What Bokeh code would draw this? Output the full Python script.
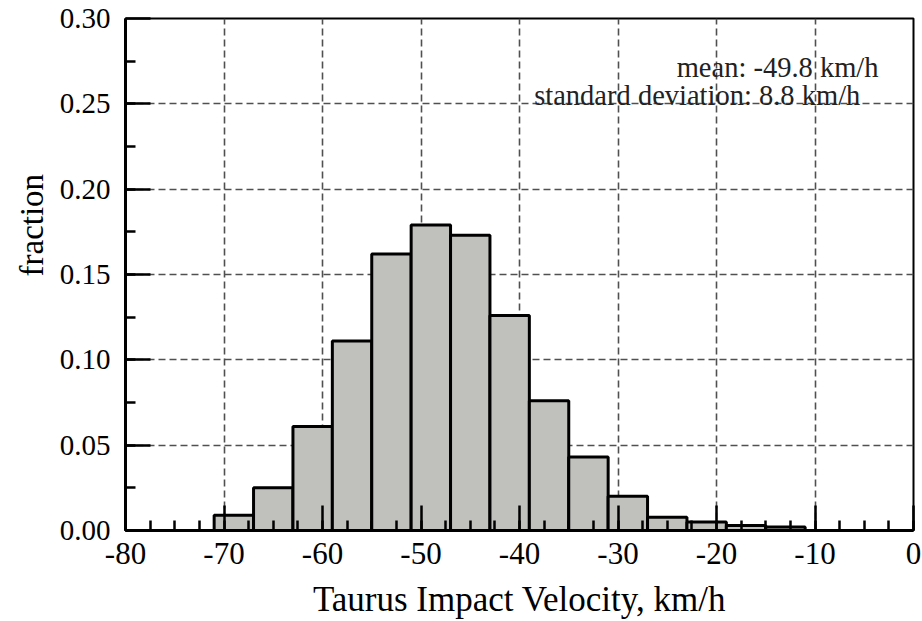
from bokeh.plotting import figure
from bokeh.models import FixedTicker, Label, ColumnDataSource, Title
from bokeh.embed import file_html
from bokeh.resources import INLINE

# ---- data ----
bin_left = [-71, -67, -63, -59, -55, -51, -47, -43, -39, -35, -31, -27, -23, -19, -15]
fraction = [0.009, 0.025, 0.061, 0.111, 0.162, 0.179, 0.173, 0.126, 0.076, 0.043,
            0.020, 0.0078, 0.005, 0.003, 0.002]
bin_width = 4

x_ticks = [-80, -70, -60, -50, -40, -30, -20, -10, 0]
x_tick_labels = ["-80", "-70", "-60", "-50", "-40", "-30", "-20", "-10", "0"]
y_ticks = [0.0, 0.05, 0.10, 0.15, 0.20, 0.25, 0.30]
y_tick_labels = ["0.00", "0.05", "0.10", "0.15", "0.20", "0.25", "0.30"]
x_minor = [-80 + 2.5 * i for i in range(33)]
y_minor = [0.025 * i for i in range(13)]

x_label = "Taurus Impact Velocity, km/h"
y_label = "fraction"
mean_text = "mean: -49.8 km/h"
sd_text = "standard deviation: 8.8 km/h"

FONT = "Liberation Serif"

src = ColumnDataSource(dict(
    left=bin_left,
    right=[b + bin_width for b in bin_left],
    top=fraction,
))

p = figure(width=922, height=621, x_range=(-80, 0), y_range=(0, 0.30),
           output_backend="svg", toolbar_location=None,
           min_border_left=125, min_border_right=9,
           min_border_top=18, min_border_bottom=91)

p.background_fill_color = "white"
p.border_fill_color = "white"
p.outline_line_color = "black"
p.outline_line_width = 2

p.quad(left="left", right="right", bottom=0, top="top", source=src,
       fill_color="#c0c1bd", line_color="black", line_width=3)

# axes
p.xaxis.ticker = FixedTicker(ticks=x_ticks, minor_ticks=x_minor)
p.yaxis.ticker = FixedTicker(ticks=y_ticks, minor_ticks=y_minor)
p.xaxis.major_label_overrides = {t: l for t, l in zip(x_ticks, x_tick_labels)}
p.yaxis.major_label_overrides = {t: l for t, l in zip(y_ticks, y_tick_labels)}

for ax in (p.xaxis[0], p.yaxis[0]):
    ax.axis_line_color = "black"
    ax.axis_line_width = 3
    ax.major_tick_in = 25
    ax.major_tick_out = 0
    ax.minor_tick_in = 10
    ax.minor_tick_out = 0
    ax.major_tick_line_color = "black"
    ax.major_tick_line_width = 2.5
    ax.minor_tick_line_color = "black"
    ax.minor_tick_line_width = 2.5
    ax.major_label_text_font = FONT
    ax.major_label_text_color = "black"
    ax.axis_label_text_font = FONT
    ax.axis_label_text_font_size = "35px"
    ax.axis_label_text_font_style = "normal"
    ax.axis_label_text_color = "black"

p.xaxis.major_label_text_font_size = "31px"
p.yaxis.major_label_text_font_size = "29px"
p.xaxis.major_label_standoff = 12
p.xaxis.axis_label = x_label
p.xaxis.axis_label_standoff = 13
p.yaxis.major_label_standoff = 15

# grid
p.xgrid.ticker = FixedTicker(ticks=x_ticks)
p.ygrid.ticker = FixedTicker(ticks=y_ticks)
for g in (p.xgrid[0], p.ygrid[0]):
    g.grid_line_color = "#505050"
    g.grid_line_width = 1.6
    g.grid_line_dash = "7 4"

# y axis label, placed above centre like the reference
p.add_layout(Title(text=y_label, align="left", offset=254,
                   text_font=FONT, text_font_size="33px",
                   text_font_style="normal", text_color="black",
                   standoff=14), "left")

# annotations
p.add_layout(Label(x=-3.55, y=0.2715, text=mean_text,
                   text_align="right", text_baseline="alphabetic",
                   text_font=FONT, text_font_size="28.5px",
                   text_color="#222222"))
p.add_layout(Label(x=-5.4, y=0.2548, text=sd_text,
                   text_align="right", text_baseline="alphabetic",
                   text_font=FONT, text_font_size="28.5px",
                   text_color="#222222"))

open("out.html", "w").write(file_html(p, INLINE))
